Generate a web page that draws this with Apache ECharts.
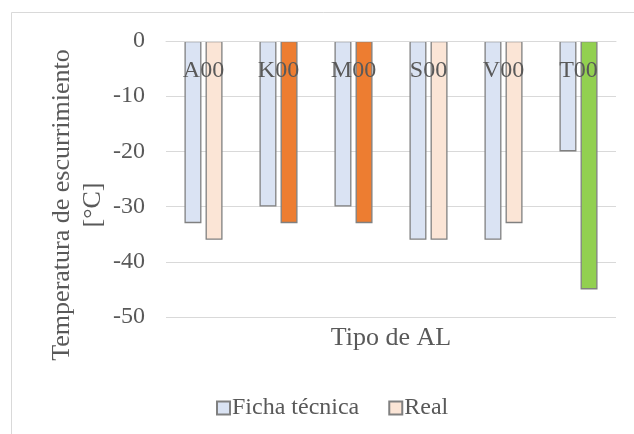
<!DOCTYPE html>
<html>
<head>
<meta charset="utf-8">
<script src="https://cdn.jsdelivr.net/npm/echarts@6/dist/echarts.min.js"></script>
<style>html,body{margin:0;padding:0;background:#fff}#c{width:634px;height:434px}</style>
</head>
<body>
<div id="c"></div>
<script>
const categories = ['A00', 'K00', 'M00', 'S00', 'V00', 'T00'];
const fichaTecnica = [-33, -30, -30, -36, -36, -20];
const real = [-36, -33, -33, -36, -33, -45];
const realColors = ['#FBE5D6', '#ED7D31', '#ED7D31', '#FBE5D6', '#FBE5D6', '#92D050'];
const yTicks = [0, -10, -20, -30, -40, -50];

const FONT = 'Liberation Serif';
const TXT = '#595959';
const chart = echarts.init(document.getElementById('c'));
chart.setOption({
  animation: false,
  backgroundColor: '#fff',
  grid: { left: 166, right: 18, top: 41, bottom: 117 },
  legend: {
    left: 216, top: 396, icon: 'rect', padding: 0,
    itemWidth: 13, itemHeight: 13, itemGap: 29,
    textStyle: { fontFamily: FONT, fontSize: 24, color: TXT, padding: [0, 0, 0, -3] },
    data: ['Ficha técnica', 'Real']
  },
  xAxis: {
    type: 'category', data: categories, z: 10, position: 'top',
    axisLine: { show: true, lineStyle: { color: '#D9D9D9' } },
    axisTick: { show: false },
    axisLabel: { inside: true, margin: 18, fontFamily: FONT, fontSize: 24, color: TXT }
  },
  yAxis: {
    type: 'value', min: -50, max: 0, interval: 10,
    axisLine: { show: false }, axisTick: { show: false },
    axisLabel: { margin: 21, fontFamily: FONT, fontSize: 24, color: TXT,
      formatter: v => yTicks.includes(v) ? String(v) : '' },
    splitLine: { lineStyle: { color: '#D9D9D9', width: 1 } }
  },
  graphic: [
    { type: 'rect', shape: { x: 11.5, y: 12.5, width: 700, height: 500 }, style: { fill: 'none', stroke: '#D9D9D9', lineWidth: 1 }, z: -10 },
    { type: 'text', x: 391, y: 338, style: { text: 'Tipo de AL', font: '26px "Liberation Serif"', fill: TXT, align: 'center', verticalAlign: 'middle' } },
    { type: 'text', x: 78, y: 205, rotation: Math.PI / 2,
      style: { text: 'Temperatura de escurrimiento\n[°C]', font: '26px "Liberation Serif"', lineHeight: 31, fill: TXT, align: 'center', verticalAlign: 'middle' } }
  ],
  series: [
    { name: 'Ficha técnica', type: 'bar', data: fichaTecnica, barWidth: 17, barGap: '24%',
      itemStyle: { color: '#DAE3F3', borderColor: '#808080', borderWidth: 1.3 } },
    { name: 'Real', type: 'bar', barWidth: 17,
      data: real.map((v, i) => ({ value: v, itemStyle: { color: realColors[i] } })),
      itemStyle: { color: '#FBE5D6', borderColor: '#808080', borderWidth: 1.3 } }
  ]
});
</script>
</body>
</html>
